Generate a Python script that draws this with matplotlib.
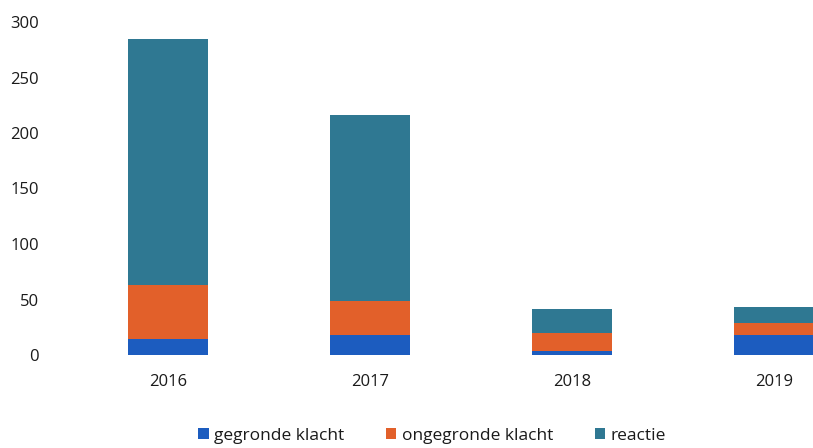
import matplotlib
matplotlib.use("Agg")
import matplotlib.pyplot as plt
import numpy as np

# values
years = ["2016", "2017", "2018", "2019"]
gegrond = [14, 18, 4, 18]
ongegrond = [49, 31, 16, 11]
reactie = [222, 167, 21, 14]

labels = ["gegronde klacht", "ongegronde klacht", "reactie"]
colors = ["#1c5cbf", "#e2602a", "#2f7892"]

plt.rcParams['font.family'] = ['Open Sans', 'DejaVu Sans']

fig = plt.figure(figsize=(8.13, 4.48), dpi=100)
ax = fig.add_axes([67 / 813, 93 / 448, (813 - 67) / 813, 333 / 448])

x = np.arange(len(years))
bottom = np.zeros(len(years))
for vals, lab, col in zip([gegrond, ongegrond, reactie], labels, colors):
    ax.bar(x, vals, width=0.4, bottom=bottom, color=col, label=lab)
    bottom += np.array(vals)

ax.set_xlim(-0.5, 3.193)
ax.set_ylim(0, 300)
ax.set_yticks(range(0, 301, 50))
ax.set_xticks(x)
ax.set_xticklabels(years)
for s in ax.spines.values():
    s.set_visible(False)
ax.tick_params(axis='y', length=0, pad=20, labelsize=12, labelcolor='#1a1a1a')
ax.tick_params(axis='x', length=0, pad=14, labelsize=12, labelcolor='#1a1a1a')

fig.legend(loc='center', bbox_to_anchor=(432 / 813, 1 - 436 / 448), ncol=3,
           frameon=False, fontsize=12.5, handlelength=0.6, handleheight=0.6,
           handletextpad=0.3, columnspacing=2.4, labelcolor='#1a1a1a')

fig.savefig("out.png", dpi=100)
